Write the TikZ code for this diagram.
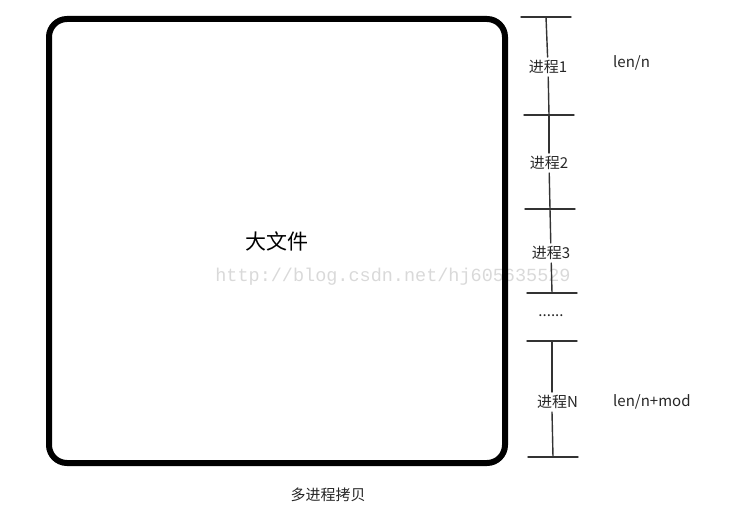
\documentclass[tikz,border=0pt]{standalone}
\usepackage{fontspec}
\newfontfamily\cjk{Noto Sans CJK SC}
\newfontfamily\wmfont{Liberation Mono}
\usetikzlibrary{positioning}
\tikzset{proc/.style={font=\cjk\fontsize{15}{17}\selectfont,text=black!85,inner sep=3pt},
  seg/.style={line width=1.4pt,draw=black!80}}

\begin{document}
\begin{tikzpicture}[x=1pt,y=1pt,line cap=round]

  \useasboundingbox (0,0) rectangle (754,-510);

  \node [font=\wmfont\fontsize{18.5}{20}\selectfont,text=black!15] (mark) at (393,-277) {http://blog.csdn.net/hj605635529};

  \node [draw,line width=6pt,rounded corners=18pt,minimum width=456pt,minimum height=444pt,
    font=\cjk\fontsize{21}{24}\selectfont] (file) at (277,-241) {大文件};

  \node [proc] (copy) at (328,-495) {多进程拷贝};


  \coordinate (t1) at (546,-17);
  \coordinate (t2) at (549,-115);
  \coordinate (t3) at (550,-209);
  \coordinate (t4) at (552,-293);
  \coordinate (t5) at (552,-341);
  \coordinate (t6) at (553,-457);

  \foreach \t in {t1,t2,t3,t4,t5,t6}
    \draw [seg] ([xshift=-25pt]\t) -- ([xshift=25pt]\t);

  \node [proc] (p1) at (548,-67) {进程1};
  \node [proc] (p2) at (549,-163) {进程2};
  \node [proc] (p3) at (551,-253) {进程3};
  \node [proc] (dots) at (551,-316) {......};
  \node [proc,anchor=west] (pN) at (534,-402) {进程N};

  \draw [seg] (t1) -- (p1);
  \draw [seg] (p1) -- (t2);
  \draw [seg] (t2) -- (p2);
  \draw [seg] (p2) -- (t3);
  \draw [seg] (t3) -- (p3);
  \draw [seg] (p3) -- (t4);
  \draw [seg] (t5) -- (t5 |- pN.north);
  \draw [seg] (t5 |- pN.south) -- (t6);

  \node [proc,anchor=west] (len1) at (610,-63) {len/n};
  \node [proc,anchor=west] (lenN) at (610,-402) {len/n+mod};

\end{tikzpicture}
\end{document}
